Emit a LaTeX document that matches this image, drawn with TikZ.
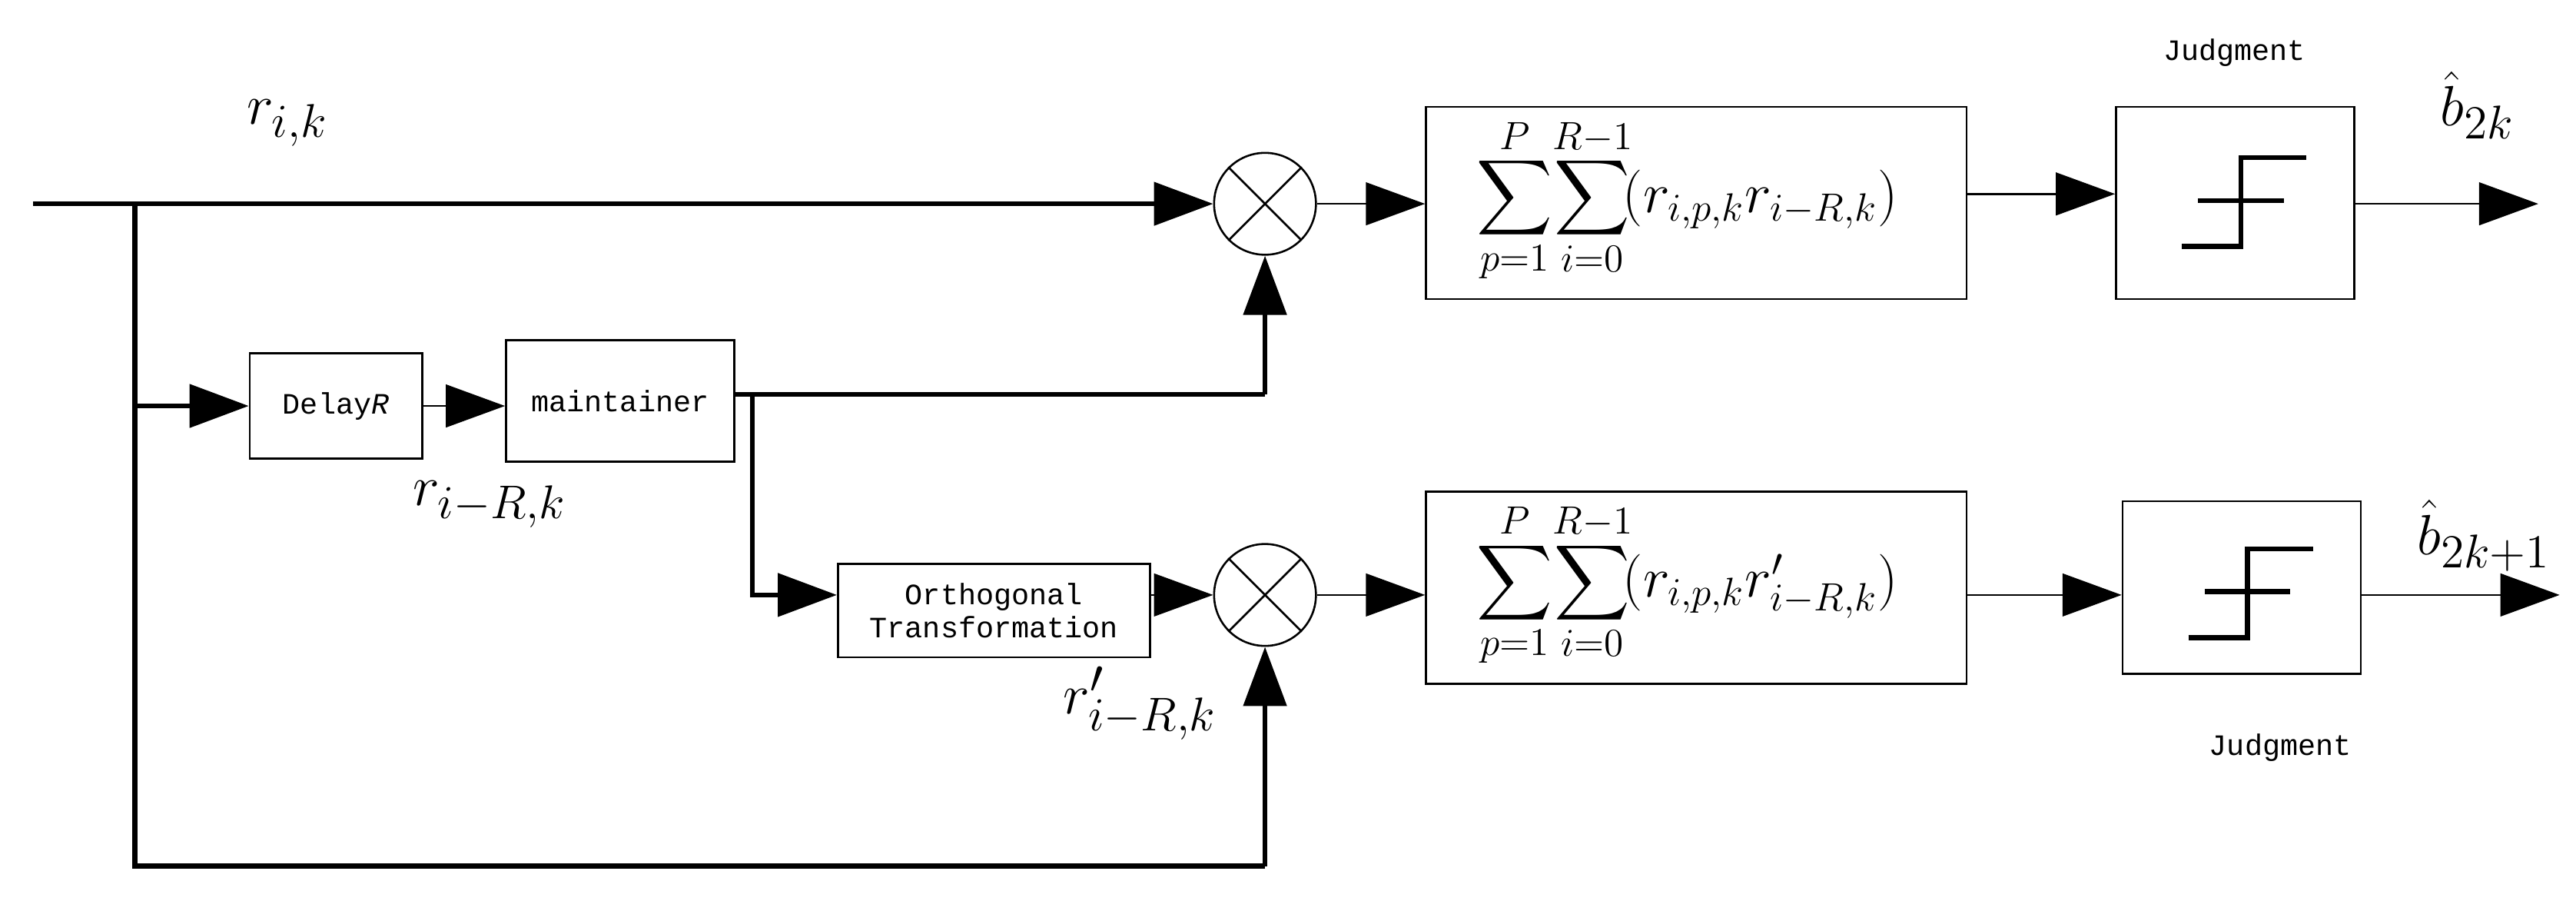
\documentclass[tikz,border=0pt]{standalone}
\usepackage{fontspec}
\setmonofont{Liberation Mono}
\usetikzlibrary{arrows.meta}
\newcommand{\bigS}{\mathop{\vcenter{\hbox{\scalebox{1.6}{$\displaystyle\sum$}}}}\limits}
\begin{document}
\begin{tikzpicture}[x=0.5pt,y=-0.5pt,
  thick line/.style={line width=1.5pt},
  thin line/.style={line width=0.6pt},
  tip/.style={-{Triangle[length=18pt,width=13pt]}},
  box/.style={draw,line width=0.6pt,inner sep=0pt},
  mult/.style={draw,circle,line width=0.6pt,minimum size=31pt,inner sep=0pt},
  lbl/.style={font=\ttfamily\fontsize{9}{10}\selectfont},
  sumf/.style={font=\fontsize{18}{20}\selectfont},
  mth/.style={font=\fontsize{19}{22}\selectfont}]
\useasboundingbox (0,0) rectangle (1568,554);
% nodes
\node[box,minimum width=52.5pt,minimum height=32pt,lbl] (delay) at (204.5,247) {Delay\textit{R}};
\node[box,minimum width=69.5pt,minimum height=37pt,lbl] (maint) at (377.5,244) {maintainer};
\node[box,minimum width=95pt,minimum height=28.5pt,lbl,align=center] (orth) at (605,371.5) {Orthogonal\\Transformation};
\node[mult] (m1) at (770,124) {};
\node[mult] (m2) at (770,362) {};
\foreach \m in {m1,m2}{
  \draw[thin line] (\m.north west) -- (\m.south east);
  \draw[thin line] (\m.north east) -- (\m.south west);}
\node[box,minimum width=164.5pt,minimum height=58.5pt] (s1) at (1032.5,123.5) {};
\node[sumf] (f1) at (1027,122) {$\bigS_{p=1}^{P}\!\bigS_{i=0}^{R-1}\!(r_{i,p,k}r_{i-R,k})$};
\node[box,minimum width=164.5pt,minimum height=58.5pt] (s2) at (1032.5,357.5) {};
\node[sumf] (f2) at (1027,356) {$\bigS_{p=1}^{P}\!\bigS_{i=0}^{R-1}\!(r_{i,p,k}r'_{i-R,k})$};
\node[box,minimum width=72.5pt,minimum height=58.5pt] (j1) at (1360.5,123.5) {};
\node[box,minimum width=72.5pt,minimum height=52.5pt] (j2) at (1364.5,357.5) {};
% step symbols
\foreach \j/\dx/\dy in {j1/0/0,j2/4/238}{
  \draw[thick line] (1328+\dx,150+\dy) -- (1364+\dx,150+\dy) -- (1364+\dx,96+\dy) -- (1404+\dx,96+\dy);
  \draw[thick line] (1338+\dx,122+\dy) -- (1390+\dx,122+\dy);}
% coordinates
\coordinate (in) at (20,124);
\coordinate (br) at (82,124);
\coordinate (bd) at (82,247);
\coordinate (bb) at (82,527);
\coordinate (cb) at (770,527);
\coordinate (mo) at (447,240);
\coordinate (mt) at (458,240);
\coordinate (md) at (458,362);
\coordinate (mc) at (770,240);
\coordinate (o1) at (1545,124);
\coordinate (o2) at (1558,362);
% connectors
\draw[thick line,tip] (in) -- (m1.west);
\draw[thick line] (br) -- (bb) -- (cb);
\draw[thick line,tip] (cb) -- (m2.south);
\draw[thick line,tip] (bd) -- (delay.west);
\draw[thin line,tip] (delay.east) -- (maint.west|-delay.east);
\draw[thick line] (mo) -- (mc);
\draw[thick line,tip] (mc) -- (m1.south);
\draw[thick line,tip] (mt) -- (md) -- (orth.west|-md);
\draw[thin line,tip] (orth.east|-m2) -- (m2.west);
\draw[thin line,tip] (m1.east) -- (s1.west|-m1);
\draw[thin line,tip] (m2.east) -- (s2.west|-m2);
\draw[thin line,tip] (1197,118) -- (j1.west|-0,118);
\draw[thin line,tip] (j1.east|-o1) -- (o1);
\draw[thin line,tip] (s2.east|-m2) -- (j2.west|-m2);
\draw[thin line,tip] (j2.east|-o2) -- (o2);
% labels
\node[mth] (l1) at (175,75) {$r_{i,k}$};
\node[mth] (l2) at (298,307) {$r_{i-R,k}$};
\node[mth] (l3) at (694,428) {$r'_{i-R,k}$};
\node[mth] (l4) at (1508,64) {$\hat{b}_{2k}$};
\node[mth] (l5) at (1512,326) {$\hat{b}_{2k+1}$};
\node[lbl] (jl1) at (1360,32) {Judgment};
\node[lbl] (jl2) at (1388,455) {Judgment};
\end{tikzpicture}
\end{document}
